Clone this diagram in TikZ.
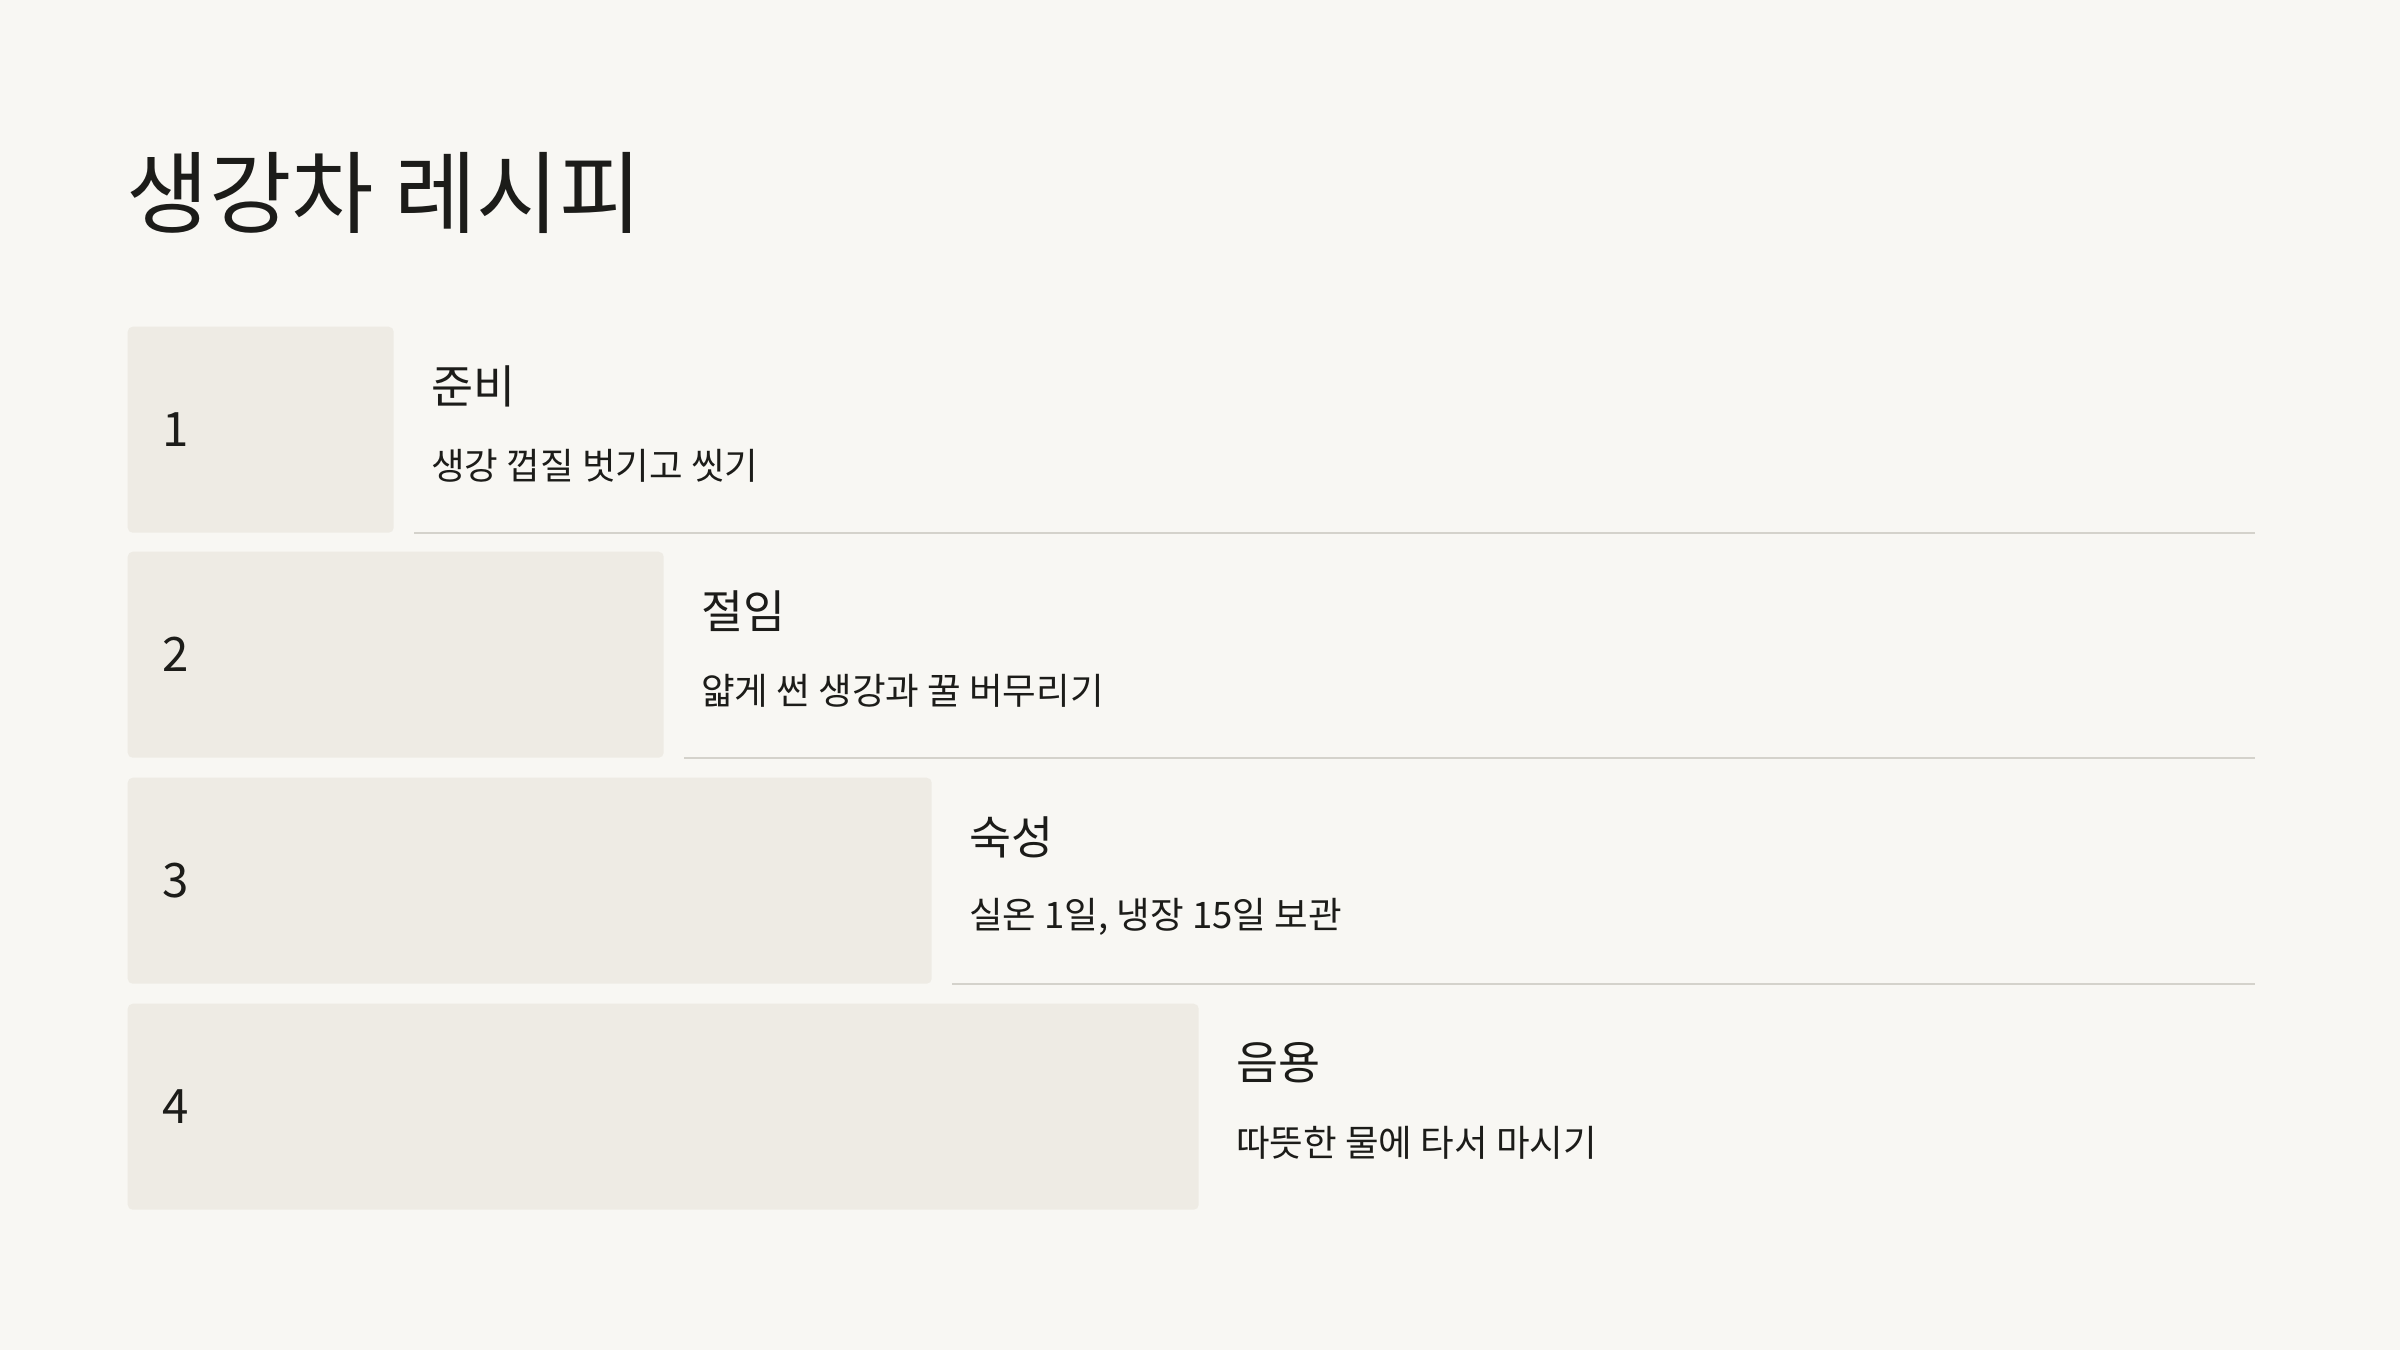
\documentclass[tikz,border=0pt]{standalone}
\usepackage{fontspec}
\setmainfont{Noto Sans CJK KR}
\usetikzlibrary{positioning}
\definecolor{paper}{HTML}{F8F7F3}
\definecolor{stepfill}{HTML}{EEEBE4}
\definecolor{rulegray}{HTML}{D4D2CB}
\definecolor{ink}{HTML}{1C1C19}
\begin{document}
\begin{tikzpicture}[
    title/.style={font=\fontsize{25.5}{30}\selectfont, text=ink, inner sep=0pt, anchor=west},
    stepbox/.style={fill=stepfill, rounded corners=0.05cm, minimum height=2.06cm,
                    inner sep=0pt, anchor=north west},
    stepnum/.style={font=\fontsize{13.5}{16}\selectfont, text=ink, inner sep=0pt, anchor=west},
    head/.style={font=\fontsize{13}{16}\selectfont, text=ink, inner sep=0pt, anchor=west},
    desc/.style={font=\fontsize{10.4}{12}\selectfont, text=ink, inner sep=0pt, anchor=west},
    rule/.style={draw=rulegray, line width=0.6pt},
  ]
    \fill[paper] (0,0) rectangle (24,-13.5);
    \useasboundingbox (0,0) rectangle (24,-13.5);
    \coordinate (edge) at (22.55,0);

    \node[title] (title) at (1.26,-1.93) {생강차 레시피};

    % steps
    \node[stepbox, minimum width=2.66cm] (b1) at (1.27,-3.26) {};
    \node[stepbox, minimum width=5.36cm] (b2) at (1.27,-5.51) {};
    \node[stepbox, minimum width=8.04cm] (b3) at (1.27,-7.77) {};
    \node[stepbox, minimum width=10.71cm] (b4) at (1.27,-10.03) {};

    \node[stepnum] (n1) at ([xshift=0.35cm]b1.west) {1};
    \node[stepnum] (n2) at ([xshift=0.35cm]b2.west) {2};
    \node[stepnum] (n3) at ([xshift=0.35cm]b3.west) {3};
    \node[stepnum] (n4) at ([xshift=0.35cm]b4.west) {4};

    \node[head] (h1) at ([xshift=0.36cm, yshift=-0.60cm]b1.north east) {준비};
    \node[desc, below=0.80cm of h1.west, anchor=west] (d1) {생강 껍질 벗기고 씻기};
    \node[head] (h2) at ([xshift=0.36cm, yshift=-0.60cm]b2.north east) {절임};
    \node[desc, below=0.80cm of h2.west, anchor=west] (d2) {얇게 썬 생강과 꿀 버무리기};
    \node[head] (h3) at ([xshift=0.36cm, yshift=-0.60cm]b3.north east) {숙성};
    \node[desc, below=0.80cm of h3.west, anchor=west] (d3) {실온 1일, 냉장 15일 보관};
    \node[head] (h4) at ([xshift=0.36cm, yshift=-0.60cm]b4.north east) {음용};
    \node[desc, below=0.80cm of h4.west, anchor=west] (d4) {따뜻한 물에 타서 마시기};

    \draw[rule] ([xshift=0.2cm]b1.south east) -- (b1.south east -| edge);
    \draw[rule] ([xshift=0.2cm]b2.south east) -- (b2.south east -| edge);
    \draw[rule] ([xshift=0.2cm]b3.south east) -- (b3.south east -| edge);
  \end{tikzpicture}
\end{document}
